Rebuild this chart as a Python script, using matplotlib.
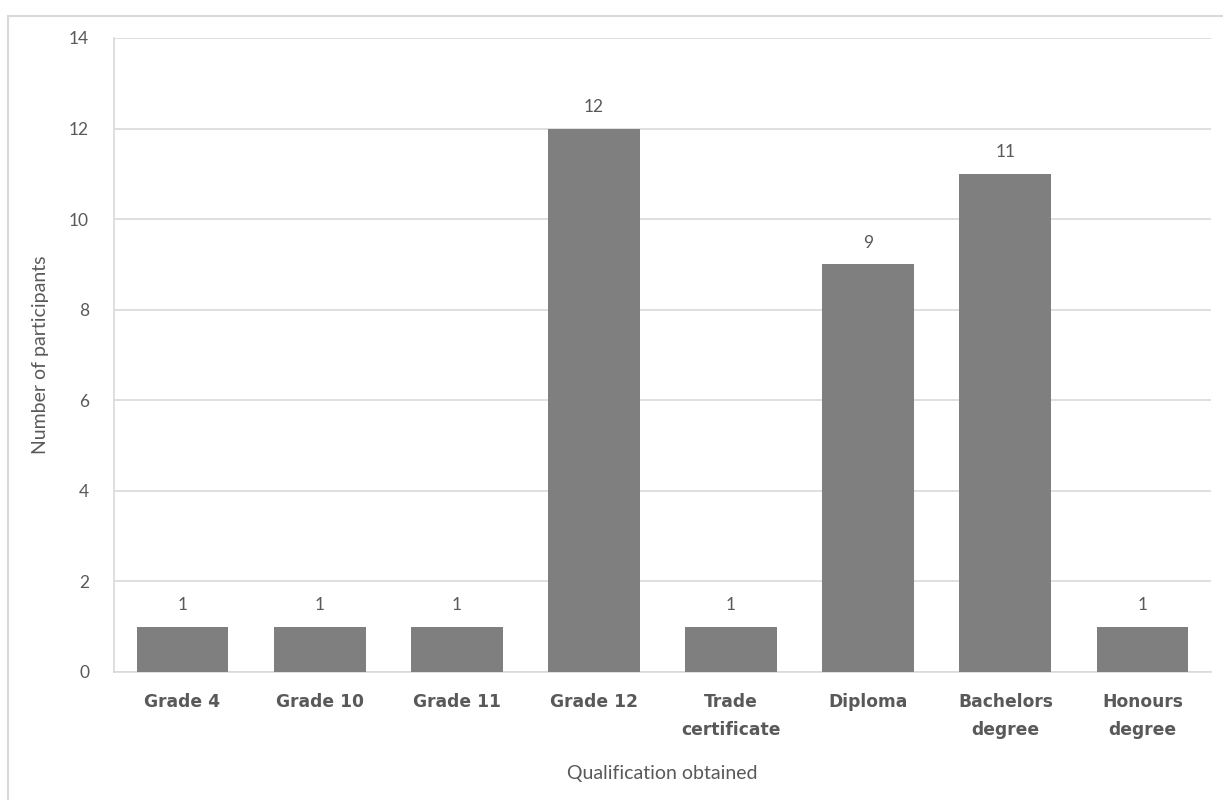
import matplotlib

matplotlib.use("Agg")
import matplotlib.pyplot as plt
from matplotlib.patches import Rectangle

# Highest qualification obtained by participants
qualifications = [
    "Grade 4",
    "Grade 10",
    "Grade 11",
    "Grade 12",
    "Trade\ncertificate",
    "Diploma",
    "Bachelors\ndegree",
    "Honours\ndegree",
]
participants = [1, 1, 1, 12, 1, 9, 11, 1]
y_ticks = [0, 2, 4, 6, 8, 10, 12, 14]

BAR = "#7f7f7f"
TEXT = "#595959"
GRID = "#d9d9d9"

plt.rcParams["font.family"] = ["Lato", "DejaVu Sans"]

fig = plt.figure(figsize=(12.23, 8), dpi=100)
ax = fig.add_axes([114 / 1223, 1 - 672 / 800, (1211 - 114) / 1223, (672 - 38) / 800])

# light chart-area frame, running off the right and bottom edges
fig.patches.append(Rectangle((8 / 1223, -0.05), 1.2, 1.05 - 16 / 800,
                             transform=fig.transFigure, fill=False,
                             edgecolor=GRID, linewidth=1.5, zorder=0))

xs = list(range(len(qualifications)))
ax.bar(xs, participants, width=0.67, color=BAR, zorder=3)
for x, v in zip(xs, participants):
    ax.annotate(str(v), (x, v), xytext=(0, 10), textcoords="offset points",
                ha="center", va="bottom", fontsize=12.5, color=TEXT)

ax.set_xlim(-0.5, len(qualifications) - 0.5)
ax.set_ylim(0, 14)
ax.set_yticks(y_ticks)
ax.yaxis.grid(True, color=GRID, linewidth=1.2, zorder=0)
ax.set_axisbelow(True)

for side in ("top", "right"):
    ax.spines[side].set_visible(False)
for side in ("left", "bottom"):
    ax.spines[side].set_color(GRID)
    ax.spines[side].set_linewidth(1.2)

ax.tick_params(axis="both", length=0, colors=TEXT, labelsize=12.5)
ax.tick_params(axis="y", pad=18)
ax.tick_params(axis="x", pad=15)
ax.set_xticks(xs)
ax.set_xticklabels(qualifications, family="DejaVu Sans",
                   fontweight="bold", fontsize=12.3, linespacing=1.7, va="top")

ax.set_ylabel("Number of participants", fontsize=14, color=TEXT, labelpad=14)
ax.set_xlabel("Qualification obtained", fontsize=14, color=TEXT, labelpad=19)

fig.savefig("out.png", dpi=100)
